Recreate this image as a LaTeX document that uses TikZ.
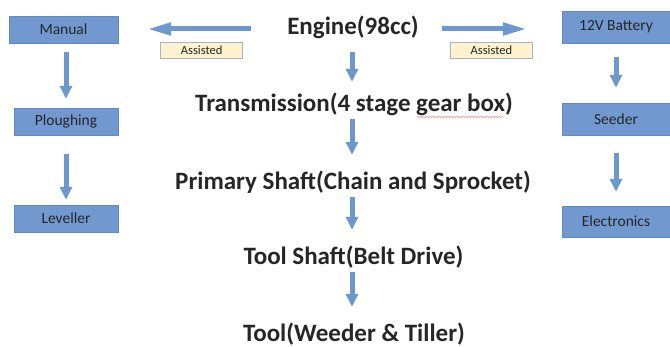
\documentclass[tikz,border=0pt]{standalone}
\usepackage{fontspec}
\setmainfont{Carlito}
\usetikzlibrary{arrows.meta,decorations.pathmorphing}
\definecolor{boxblue}{HTML}{7199CF}
\definecolor{boxedge}{HTML}{5F8AC4}
\definecolor{arrowblue}{HTML}{6C98CE}
\definecolor{noteyellow}{HTML}{FFF2CC}
\definecolor{noteedge}{HTML}{A3B4CA}
\definecolor{darktext}{HTML}{262626}

\begin{document}
\begin{tikzpicture}[x=1pt,y=-1pt,
  box/.style={draw=boxedge, fill=boxblue, text=darktext, inner sep=0pt,
    font=\fontsize{15.5}{18}\selectfont},
  stage/.style={anchor=base, text=darktext, inner sep=2pt, text height=16pt,
    text depth=4pt, font=\fontsize{25}{29}\selectfont\bfseries},
  note/.style={draw=noteedge, fill=noteyellow, text=darktext, inner sep=0pt, line width=0.6pt,
    minimum width=82pt, minimum height=16pt, font=\fontsize{12.5}{14}\selectfont},
  down/.style={draw=arrowblue, line width=5pt, -{Triangle[length=13pt,width=12pt]},
    shorten <=1pt, shorten >=17pt},
  side/.style={draw=arrowblue, line width=5pt, -{Triangle[length=24pt,width=12pt]}},
  squiggle/.style={draw=red!45, line width=0.6pt,
    decorate, decoration={snake, amplitude=0.7pt, segment length=3pt}}]
		\useasboundingbox (0,0) rectangle (670,347);
		
		% middle column
		\node[stage] (Engine) at (353,35) {Engine(98cc)};
		\node[stage] (Trans) at (354,112) {Transmission(4 stage gear box)};
		\node[stage] (Primary) at (353,190) {Primary Shaft(Chain and Sprocket)};
		\node[stage] (ToolShaft) at (353.5,265) {Tool Shaft(Belt Drive)};
		\node[stage] (Tool) at (354,342) {Tool(Weeder \& Tiller)};
		
		\path (Engine.south -| 352,0) edge[down, shorten <=11pt, shorten >=12pt] (Trans.north -| 352,0);
		\path (Trans.south -| 352,0) edge[down] (Primary.north -| 352,0);
		\path (Primary.south -| 352,0) edge[down] (ToolShaft.north -| 352,0);
		\path (ToolShaft.south -| 352,0) edge[down] (Tool.north -| 352,0);
		
		\draw[squiggle] (417,117) -- (503,117);
		
		% left column
		\node[box, minimum width=109pt, minimum height=27pt] (Manual) at (63.5,29.5) {Manual};
		\node[box, minimum width=104pt, minimum height=27pt] (Plough) at (66,121.5) {Ploughing};
		\node[box, minimum width=104pt, minimum height=27pt] (Leveller) at (66,218.5) {Leveller};
		
		\path (Engine.west) edge[side, shorten <=34pt, shorten >=29pt]
			node[note, below=13pt] {Assisted} (Engine.west -| Manual.east);
		\path (Manual.south -| Plough.north) edge[down, shorten <=9pt, shorten >=9pt] (Plough.north);
		\path (Plough.south) edge[down, shorten <=19pt, shorten >=5pt] (Leveller.north);
		
		% right column
		\node[box, minimum width=108pt, minimum height=32pt] (Battery) at (616,27) {12V Battery};
		\node[box, minimum width=108pt, minimum height=32pt] (Seeder) at (616,119) {Seeder};
		\node[box, minimum width=108pt, minimum height=31pt] (Electronics) at (616,221.5) {Electronics};
		
		\path (Engine.east) edge[side, shorten <=21pt, shorten >=35pt]
			node[note, below=13pt] {Assisted} (Engine.east -| Battery.west);
		\path (Battery.south) edge[down, shorten <=14pt, shorten >=15pt] (Seeder.north);
		\path (Seeder.south) edge[down, shorten <=18pt, shorten >=14pt] (Electronics.north);
\end{tikzpicture}
\end{document}
